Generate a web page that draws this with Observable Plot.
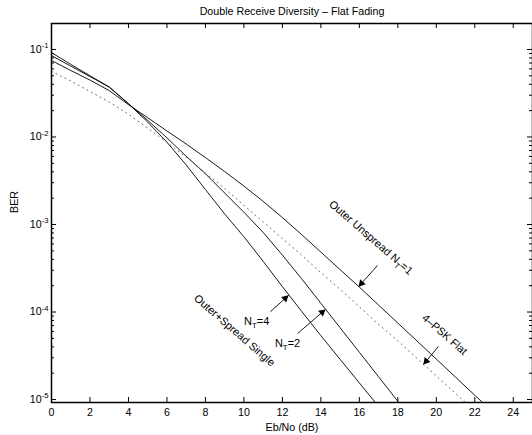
<!DOCTYPE html>
<html><head><meta charset="utf-8">
<script src="https://cdn.jsdelivr.net/npm/d3@7"></script>
<script src="https://cdn.jsdelivr.net/npm/@observablehq/plot@0.6"></script>
<style>body{margin:0;background:#fff;} svg{display:block;}</style>
</head><body><div id="chart"></div>
<script>
// ---- text ----
const title = "Double Receive Diversity – Flat Fading";
const xLabel = "Eb/No (dB)";
const yLabel = "BER";

// ---- data ----
const ebno = [0,1,2,3,4,5,6,7,8,9,10,11,12,13,14,15,16,17,18,19,20,21,22,23];
const berSpreadNt4 = [0.0920,0.0676,0.0501,0.0372,0.0240,0.0148,8.71e-3,4.79e-3,2.51e-3,1.32e-3,7.24e-4,3.80e-4,1.95e-4,1.02e-4,5.37e-5,2.88e-5,1.55e-5,8.32e-6];
const berSpreadNt2 = [0.0851,0.0646,0.0490,0.0372,0.0240,0.0155,9.77e-3,6.03e-3,3.80e-3,2.29e-3,1.38e-3,8.13e-4,4.47e-4,2.40e-4,1.26e-4,6.61e-5,3.47e-5,1.82e-5,9.55e-6,5.01e-6];
const berUnspreadNt1 = [0.0748,0.0575,0.0447,0.0339,0.0234,0.0166,0.0117,8.32e-3,5.82e-3,4.03e-3,2.75e-3,1.84e-3,1.20e-3,7.67e-4,4.84e-4,3.05e-4,1.93e-4,1.20e-4,7.48e-5,4.66e-5,2.90e-5,1.80e-5,1.12e-5,6.98e-6];
const berPskFlat = [0.0562,0.0437,0.0331,0.0251,0.0182,0.0126,8.71e-3,5.89e-3,3.89e-3,2.57e-3,1.66e-3,1.07e-3,6.92e-4,4.47e-4,2.82e-4,1.82e-4,1.15e-4,7.24e-5,4.68e-5,2.95e-5,1.86e-5,1.17e-5,7.41e-6];

const xTicks = [0,2,4,6,8,10,12,14,16,18,20,22,24];
const yTicks = [1e-5,1e-4,1e-3,1e-2,1e-1];
const yTickLabels = ["10^{-5}","10^{-4}","10^{-3}","10^{-2}","10^{-1}"];

// ---- annotations (data coordinates) ----
const noteText = ["Outer Unspread N_{T}=1","4–PSK Flat","Outer+Spread Single","N_{T}=4","N_{T}=2"];
const noteX = [16.6, 20.43, 9.51, 10.66, 12.27];
const noteY = [7.1e-4, 5.53e-5, 6.15e-5, 7.78e-5, 4.37e-5];
const noteAngle = [41, 41, 41, 0, 0];
const arrowFromX = [16.94, 20.11, 11.38, 12.79];
const arrowFromY = [3.40e-4, 4.04e-5, 1.01e-4, 5.68e-5];
const arrowToX = [15.96, 19.33, 12.32, 14.24];
const arrowToY = [1.95e-4, 2.51e-5, 1.55e-4, 1.07e-4];

// ---- layout ----
const W = 532, H = 435, mL = 51, mR = 0, mT = 23, mB = 33;
const pw = W - mL - mR, ph = H - mT - mB;
const xDomain = [0, 25];
const yDomain = [9.25e-6, 0.198];
const FS = 10.7;

const solidSeries = [berSpreadNt4, berSpreadNt2, berUnspreadNt1];
const solidRows = solidSeries.flatMap((s, k) => s.map((v, i) => ({x: ebno[i], y: v, k})));
const pskRows = berPskFlat.map((v, i) => ({x: ebno[i], y: v}));

const minorTicks = [];
for (let e = -6; e <= -1; e++) for (let m = 2; m <= 9; m++) {
  const v = m * Math.pow(10, e);
  if (v > yDomain[0] && v < yDomain[1]) minorTicks.push(v);
}

// arrowheads: compute with standalone scales
const xs = Plot.scale({x: {domain: xDomain, range: [mL, W - mR]}});
const ys = Plot.scale({y: {type: "log", domain: yDomain, range: [H - mB, mT]}});
const headR = 2.8;
const heads = arrowToX.map((_, i) => {
  const x1 = xs.apply(arrowFromX[i]), y1 = ys.apply(arrowFromY[i]);
  const x2 = xs.apply(arrowToX[i]), y2 = ys.apply(arrowToY[i]);
  const dx = x2 - x1, dy = y2 - y1, L = Math.hypot(dx, dy);
  const off = headR * Math.sqrt(Math.PI / (3 * Math.sqrt(3))) * 2;
  const cx = x2 - dx / L * off, cy = y2 - dy / L * off;
  return {x: xs.invert(cx), y: ys.invert(cy), rot: Math.atan2(dx, -dy) * 180 / Math.PI};
});
const idx4 = [0,1,2,3];
const idx5 = [0,1,2,3,4];

const plot = Plot.plot({
  width: W, height: H,
  marginLeft: mL, marginRight: mR, marginTop: mT, marginBottom: mB,
  style: {fontFamily: "'Liberation Sans', Arial, Helvetica, sans-serif", fontSize: FS + "px", color: "#000", background: "#fff"},
  x: {domain: xDomain, label: null},
  y: {type: "log", domain: yDomain, label: null},
  marks: [
    Plot.line(solidRows, {x: "x", y: "y", z: "k", stroke: "#000", strokeWidth: 0.9, clip: true}),
    Plot.line(pskRows, {x: "x", y: "y", stroke: "#555", strokeWidth: 0.9, strokeDasharray: "1,4", clip: true}),
    // major ticks (inward)
    Plot.tickX(xTicks, {x: d => d, insetTop: ph - 5, stroke: "#000"}),
    Plot.tickX(xTicks, {x: d => d, insetBottom: ph - 5, stroke: "#000"}),
    Plot.tickY(yTicks, {y: d => d, insetRight: pw - 5, stroke: "#000"}),
    Plot.tickY(yTicks, {y: d => d, insetLeft: pw - 5, stroke: "#000"}),
    Plot.tickY(minorTicks, {y: d => d, insetRight: pw - 3, stroke: "#000"}),
    Plot.tickY(minorTicks, {y: d => d, insetLeft: pw - 3, stroke: "#000"}),
    Plot.frame({stroke: "#000", strokeWidth: 1.5}),
    Plot.axisX({ticks: xTicks, tickSize: 0, tickPadding: 6, label: null, tickFormat: d => String(d)}),
    Plot.axisY({ticks: yTicks, tickSize: 0, tickPadding: 3, label: null, tickFormat: d => yTickLabels[yTicks.indexOf(d)]}),
    // titles
    Plot.text([title], {frameAnchor: "top", dy: -12, fontSize: FS, lineAnchor: "middle"}),
    Plot.text([xLabel], {frameAnchor: "bottom", dy: 25, fontSize: FS, lineAnchor: "middle"}),
    Plot.text([yLabel], {frameAnchor: "left", dx: -37, rotate: -90, fontSize: FS, lineAnchor: "middle"}),
    // annotations
    Plot.text(idx5, {x: i => noteX[i], y: i => noteY[i], text: i => noteText[i], rotate: i => noteAngle[i], fontSize: 11, textAnchor: "middle", lineAnchor: "middle"}),
    Plot.link(idx4, {x1: i => arrowFromX[i], y1: i => arrowFromY[i], x2: i => arrowToX[i], y2: i => arrowToY[i], stroke: "#000", strokeWidth: 0.9}),
    Plot.dot(idx4, {x: i => heads[i].x, y: i => heads[i].y, rotate: i => heads[i].rot, symbol: "triangle", r: headR, fill: "#000", stroke: "none"})
  ]
});
document.getElementById("chart").appendChild(plot);

// rich text: ^{...} superscript, _{...} subscript
const NS = "http://www.w3.org/2000/svg";
plot.querySelectorAll("text").forEach(node => {
  const s = node.textContent;
  if (!/[\^_]\{/.test(s)) return;
  const fs = parseFloat(getComputedStyle(node).fontSize) || FS;
  while (node.firstChild) node.removeChild(node.firstChild);
  const re = /([\^_])\{([^}]*)\}/g;
  let last = 0, m, pending = 0;
  const add = (txt, dy, small) => {
    const t = document.createElementNS(NS, "tspan");
    t.textContent = txt;
    if (dy) t.setAttribute("dy", dy.toFixed(2));
    if (small) t.setAttribute("font-size", (fs * 0.72).toFixed(2));
    node.appendChild(t);
  };
  while ((m = re.exec(s))) {
    if (m.index > last) { add(s.slice(last, m.index), pending, false); pending = 0; }
    const d = m[1] === "^" ? -0.42 * fs : 0.3 * fs;
    add(m[2], pending + d, true);
    pending = -d;
    last = re.lastIndex;
  }
  if (last < s.length) add(s.slice(last), pending, false);
});
</script>
</body></html>
